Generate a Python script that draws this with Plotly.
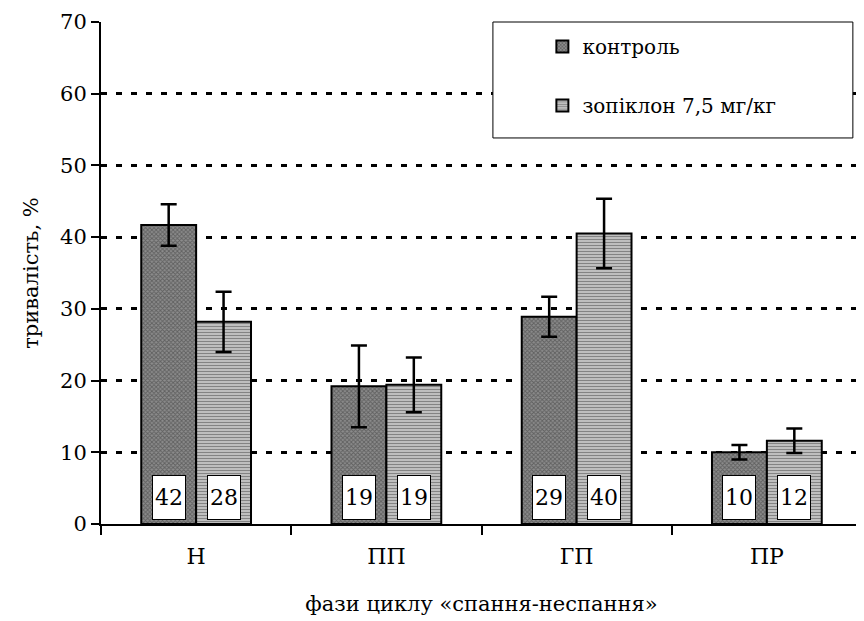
import plotly.graph_objects as go

categories = ["Н", "ПП", "ГП", "ПР"]
series_names = ["контроль", "зопіклон 7,5 мг/кг"]
control_values = [41.7, 19.2, 28.9, 10.0]
control_errors = [2.9, 5.7, 2.8, 1.0]
zopiclone_values = [28.2, 19.4, 40.5, 11.6]
zopiclone_errors = [4.2, 3.8, 4.85, 1.7]
control_labels = ["42", "19", "29", "10"]
zopiclone_labels = ["28", "19", "40", "12"]
y_ticks = [0, 10, 20, 30, 40, 50, 60, 70]

FONT = "DejaVu Serif"
BARGAP = 0.423

fig = go.Figure()
fig.add_trace(go.Bar(
    x=categories, y=control_values, name=series_names[0], legendgroup="a",
    marker=dict(color="#8c8c8c", line=dict(color="black", width=2),
                pattern=dict(shape="x", size=3, fgcolor="#333333", bgcolor="#8c8c8c", solidity=0.5)),
    error_y=dict(type="data", array=control_errors, visible=True, color="black", thickness=2.5, width=8),
))
fig.add_trace(go.Bar(
    x=categories, y=zopiclone_values, name=series_names[1], legendgroup="b",
    marker=dict(color="#999999", line=dict(color="black", width=2),
                pattern=dict(shape="-", size=3, fgcolor="#222222", bgcolor="#e6e6e6", solidity=0.6)),
    error_y=dict(type="data", array=zopiclone_errors, visible=True, color="black", thickness=2.5, width=8),
))

half = (1 - BARGAP) / 4
annotations = []
for i, (a, b) in enumerate(zip(control_labels, zopiclone_labels)):
    for off, txt in ((-half, a), (half, b)):
        annotations.append(dict(
            x=i + off, y=0, xref="x", yref="y", yanchor="bottom", yshift=4,
            text=txt, showarrow=False, font=dict(family=FONT, size=22, color="black"),
            bgcolor="white", bordercolor="black", borderwidth=1, borderpad=0,
            width=32, height=43,
        ))

fig.update_layout(
    width=864, height=621,
    margin=dict(l=93, r=10, t=14, b=105, autoexpand=False),
    paper_bgcolor="white", plot_bgcolor="white",
    font=dict(family=FONT, size=21, color="black"),
    barmode="group", bargap=BARGAP, bargroupgap=0,
    annotations=annotations,
    shapes=[dict(type="rect", xref="paper", yref="paper", x0=0.515, x1=0.988, y0=0.769, y1=1.0,
                 line=dict(color="black", width=1), fillcolor="white", layer="above")],
    legend=dict(x=0.58, y=0.99, xanchor="left", yanchor="top", bgcolor="rgba(0,0,0,0)",
                borderwidth=0, font=dict(family=FONT, size=20, color="black"), tracegroupgap=30,
                itemwidth=30),
    xaxis=dict(type="category", range=[-0.5, 3.5], showline=True, linecolor="black", linewidth=2,
               ticks="outside", tickson="boundaries", ticklen=9, tickwidth=2, tickcolor="black",
               tickfont=dict(family=FONT, size=22, color="black"), showgrid=False, automargin=False,
               ticklabelstandoff=12,
               title=dict(text="фази циклу «спання-неспання»", font=dict(family=FONT, size=21, color="black"), standoff=28)),
    yaxis=dict(range=[0, 70], tickvals=y_ticks, showline=True, linecolor="black", linewidth=2,
               ticks="outside", ticklen=8, tickwidth=2, tickcolor="black",
               showgrid=True, gridcolor="black", gridwidth=3, griddash="6px,9px",
               zeroline=False, tickfont=dict(family=FONT, size=21, color="black"), automargin=False,
               title=dict(text="тривалість, %", font=dict(family=FONT, size=21, color="black"), standoff=16)),
)

fig.write_html("out.html")
